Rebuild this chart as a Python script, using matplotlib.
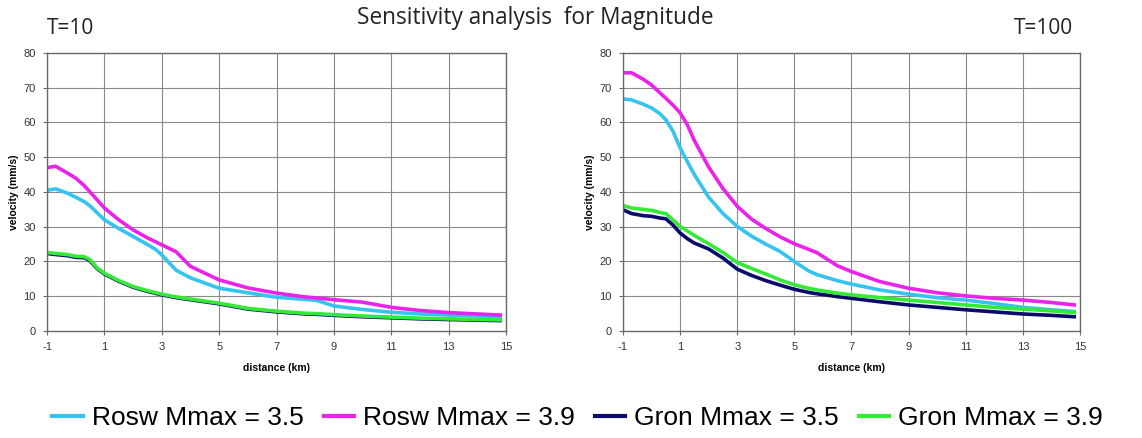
import matplotlib
matplotlib.use('Agg')
import matplotlib.pyplot as plt
from matplotlib.lines import Line2D

plt.rcParams['font.family'] = ['Liberation Sans', 'DejaVu Sans']
plt.rcParams['axes.unicode_minus'] = False

# distancia (km) para cada panel
x_t10 = [-1, -0.7, -0.3, 0, 0.3, 0.5, 0.75, 1, 1.5, 2, 2.5, 2.8, 3, 3.5, 4, 5, 6, 7, 8, 8.4, 9, 10, 11, 12, 13, 14, 14.8]
x_t100 = [-1, -0.7, -0.3, 0, 0.3, 0.5, 0.75, 1, 1.25, 1.5, 2, 2.5, 3, 3.5, 4, 4.5, 5, 5.5, 5.8, 6.5, 7, 8, 9, 10, 11, 12, 13, 14, 14.8]

# T=10, velocidad (mm/s)
rosw35_t10 = [40.5, 40.9, 39.7, 38.5, 37.2, 36.0, 34.0, 32.0, 29.5, 27.2, 24.9, 23.4, 21.9, 17.5, 15.3, 12.3, 11.0, 9.7, 9.1, 8.8, 7.2, 6.2, 5.4, 4.9, 4.6, 4.3, 4.1]
rosw39_t10 = [47.0, 47.4, 45.5, 44.0, 41.8, 40.0, 37.7, 35.4, 32.0, 29.1, 26.8, 25.6, 24.8, 22.8, 18.6, 14.7, 12.4, 10.9, 9.8, 9.5, 9.0, 8.3, 6.8, 5.9, 5.3, 4.9, 4.6]
gron35_t10 = [22.3, 22.0, 21.7, 21.2, 21.1, 20.2, 17.9, 16.4, 14.3, 12.6, 11.4, 10.8, 10.4, 9.6, 9.0, 7.8, 6.3, 5.5, 4.9, 4.8, 4.5, 4.1, 3.8, 3.5, 3.3, 3.1, 3.0]
gron39_t10 = [22.6, 22.3, 22.0, 21.5, 21.4, 20.5, 18.1, 16.6, 14.5, 12.8, 11.6, 11.0, 10.6, 9.8, 9.2, 8.0, 6.5, 5.7, 5.1, 5.0, 4.7, 4.3, 4.0, 3.7, 3.5, 3.3, 3.2]

# T=100, velocidad (mm/s)
rosw35_t100 = [66.8, 66.5, 65.3, 64.2, 62.5, 60.8, 57.5, 52.7, 48.8, 45.0, 38.5, 33.8, 30.1, 27.3, 25.0, 22.9, 20.0, 17.3, 16.2, 14.5, 13.5, 11.8, 10.6, 9.6, 8.9, 7.9, 6.8, 6.1, 5.6]
rosw39_t100 = [74.3, 74.3, 72.5, 70.8, 68.5, 67.0, 65.0, 62.8, 59.4, 54.8, 47.2, 41.0, 35.9, 32.2, 29.5, 27.1, 25.1, 23.5, 22.5, 18.8, 17.1, 14.2, 12.3, 11.0, 10.1, 9.4, 8.9, 8.2, 7.5]
gron35_t100 = [34.9, 33.8, 33.2, 33.0, 32.5, 32.3, 30.5, 28.2, 26.6, 25.3, 23.6, 21.0, 17.8, 16.0, 14.5, 13.2, 12.0, 11.1, 10.7, 9.9, 9.4, 8.4, 7.5, 6.8, 6.1, 5.5, 4.9, 4.5, 4.1]
gron39_t100 = [36.1, 35.4, 35.0, 34.7, 34.1, 33.8, 32.0, 30.1, 28.8, 27.5, 25.1, 22.6, 19.7, 18.0, 16.4, 14.7, 13.3, 12.3, 11.8, 10.9, 10.4, 9.6, 8.9, 8.2, 7.5, 6.8, 6.3, 5.8, 5.3]

etiquetas = ['Rosw Mmax = 3.5', 'Rosw Mmax = 3.9', 'Gron Mmax = 3.5', 'Gron Mmax = 3.9']
colores = ['#35c3f0', '#ea22ea', '#0b0b6a', '#35ea35']
xticks = [-1, 1, 3, 5, 7, 9, 11, 13, 15]
yticks = [0, 10, 20, 30, 40, 50, 60, 70, 80]

fig = plt.figure(figsize=(11.42, 4.38), dpi=100)
ax1 = fig.add_axes([0.0412, 0.2443, 0.4019, 0.6347])
ax2 = fig.add_axes([0.5455, 0.2443, 0.4002, 0.6347])

paneles = [
    (ax1, x_t10, [rosw35_t10, rosw39_t10, gron35_t10, gron39_t10]),
    (ax2, x_t100, [rosw35_t100, rosw39_t100, gron35_t100, gron39_t100]),
]

for ax, x, series in paneles:
    for y, c in zip(series, colores):
        ax.plot(x, y, color=c, linewidth=2.6, solid_joinstyle='round')
    ax.set_xlim(-1, 15)
    ax.set_ylim(0, 80)
    ax.set_xticks(xticks)
    ax.set_yticks(yticks)
    ax.grid(True, color='#8a8a8a', linewidth=0.8)
    ax.set_axisbelow(True)
    for s in ax.spines.values():
        s.set_color('#6a6a6a')
        s.set_linewidth(1.0)
    ax.tick_params(direction='out', length=3, width=0.8, color='#6a6a6a',
                   labelsize=8, labelcolor='#333333', pad=5)
    ax.set_xlabel('distance (km)', fontsize=7.5, fontweight='bold', labelpad=8)
    ax.set_ylabel('velocity (mm/s)', fontsize=7.5, fontweight='bold', labelpad=3)

fig.text(0.469, 0.96, 'Sensitivity analysis  for Magnitude', ha='center', va='center',
         fontsize=16.3, family='Open Sans', color='#222222')
fig.text(0.041, 0.935, 'T=10', ha='left', va='center', fontsize=15, family='Open Sans', color='#222222')
fig.text(0.940, 0.935, 'T=100', ha='right', va='center', fontsize=15, family='Open Sans', color='#222222')

manijas = [Line2D([0], [0], color=c, linewidth=3) for c in colores]
fig.legend(manijas, etiquetas, loc='center', bbox_to_anchor=(0.506, 0.045), ncol=4,
           frameon=False, handlelength=1.15, handletextpad=0.35, columnspacing=0.75,
           prop={'size': 19})

plt.savefig('out.png', dpi=100)
